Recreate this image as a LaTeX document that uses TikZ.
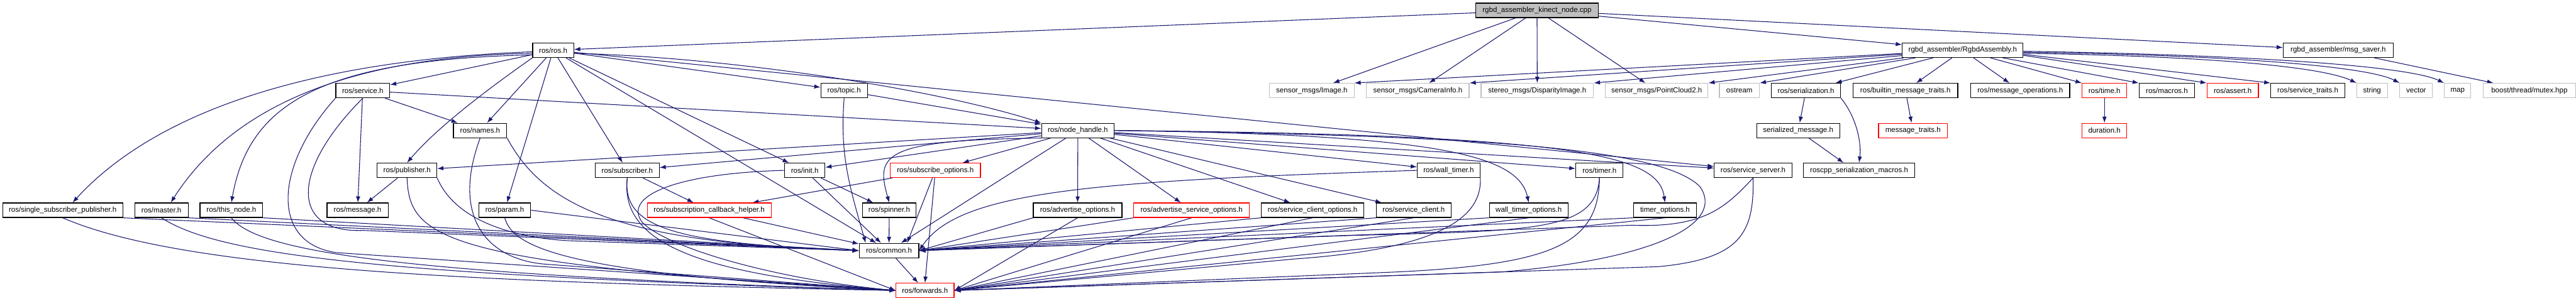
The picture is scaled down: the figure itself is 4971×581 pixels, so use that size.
\documentclass[tikz,border=0pt]{standalone}
\usepackage{fontspec}
\setmainfont{Liberation Sans}
\usetikzlibrary{positioning,arrows.meta,backgrounds}
\definecolor{incblue}{HTML}{191970}
\definecolor{sysgray}{HTML}{BFBFBF}

\begin{document}
\begin{tikzpicture}[
  x=1pt, y=-1pt,
  hdr/.style={draw,line width=1.4pt,fill=white,minimum height=28,inner sep=0pt,font=\fontsize{14}{16}\selectfont},
  syshdr/.style={hdr,draw=sysgray},
  cuthdr/.style={hdr,draw=red},
  srchdr/.style={hdr,fill=sysgray},
  inc/.style={draw=incblue,line width=1.3pt,-{Latex[length=12pt,width=8.5pt]}}
]
\useasboundingbox (0,0) rectangle (4971,581);

% row 0
\node[srchdr,minimum width=236] (kinect) at (2966,20) {rgbd\_assembler\_kinect\_node.cpp};
% row 1
\node[hdr,minimum width=79] (ros) at (1067.5,97) {ros/ros.h};
\node[hdr,minimum width=233] (assembly) at (3787.5,97) {rgbd\_assembler/RgbdAssembly.h};
\node[hdr,minimum width=212] (saver) at (4512,97) {rgbd\_assembler/msg\_saver.h};
% row 2
\node[hdr,minimum width=104] (service) at (700,175) {ros/service.h};
\node[hdr,minimum width=90] (topic) at (1629,175) {ros/topic.h};
\node[syshdr,minimum width=163] (image) at (2531.5,175) {sensor\_msgs/Image.h};
\node[syshdr,minimum width=198] (caminfo) at (2736,175) {sensor\_msgs/CameraInfo.h};
\node[syshdr,minimum width=217] (disparity) at (2966.5,175) {stereo\_msgs/DisparityImage.h};
\node[syshdr,minimum width=198] (cloud) at (3197,175) {sensor\_msgs/PointCloud2.h};
\node[syshdr,minimum width=77] (ostream) at (3356.5,175) {ostream};
\node[hdr,minimum width=134] (serialization) at (3485,175) {ros/serialization.h};
\node[hdr,minimum width=202] (builtin) at (3677,175) {ros/builtin\_message\_traits.h};
\node[hdr,minimum width=191] (msgops) at (3898.5,175) {ros/message\_operations.h};
\node[cuthdr,minimum width=86] (time) at (4061,175) {ros/time.h};
\node[hdr,minimum width=107] (macros) at (4181.5,175) {ros/macros.h};
\node[cuthdr,minimum width=99] (assert) at (4308.5,175) {ros/assert.h};
\node[hdr,minimum width=143] (srvtraits) at (4453.5,175) {ros/service\_traits.h};
\node[syshdr,minimum width=59] (string) at (4577.5,175) {string};
\node[syshdr,minimum width=63] (vector) at (4662.5,175) {vector};
\node[syshdr,minimum width=51] (map) at (4742.5,175) {map};
\node[syshdr,minimum width=178] (mutex) at (4881,175) {boost/thread/mutex.hpp};
% row 3
\node[hdr,minimum width=103] (names) at (926.5,252) {ros/names.h};
\node[hdr,minimum width=140] (nodehandle) at (2080,252) {ros/node\_handle.h};
\node[hdr,minimum width=160] (serialized) at (3470,252) {serialized\_message.h};
\node[cuthdr,minimum width=133] (msgtraits) at (3691.5,252) {message\_traits.h};
\node[cuthdr,minimum width=86] (duration) at (4061,252) {duration.h};
% row 4
\node[hdr,minimum width=115] (publisher) at (785.5,329) {ros/publisher.h};
\node[hdr,minimum width=123] (subscriber) at (1210.5,329) {ros/subscriber.h};
\node[hdr,minimum width=78] (init) at (1553,329) {ros/init.h};
\node[cuthdr,minimum width=174] (subopts) at (1805,329) {ros/subscribe\_options.h};
\node[hdr,minimum width=121] (walltimer) at (2795.5,329) {ros/wall\_timer.h};
\node[hdr,minimum width=91] (timer) at (3086.5,329) {ros/timer.h};
\node[hdr,minimum width=150] (srvserver) at (3383,329) {ros/service\_server.h};
\node[hdr,minimum width=215] (sermacros) at (3587.5,329) {roscpp\_serialization\_macros.h};
% row 5
\node[hdr,minimum width=232] (ssp) at (121,406) {ros/single\_subscriber\_publisher.h};
\node[hdr,minimum width=103] (master) at (311.5,406) {ros/master.h};
\node[hdr,minimum width=121] (thisnode) at (446.5,406) {ros/this\_node.h};
\node[hdr,minimum width=118] (message) at (690,406) {ros/message.h};
\node[hdr,minimum width=100] (param) at (974,406) {ros/param.h};
\node[cuthdr,minimum width=239] (callback) at (1368.5,406) {ros/subscription\_callback\_helper.h};
\node[hdr,minimum width=104] (spinner) at (1716,406) {ros/spinner.h};
\node[hdr,minimum width=171] (advopts) at (2079.5,406) {ros/advertise\_options.h};
\node[cuthdr,minimum width=223] (advsrvopts) at (2299.5,406) {ros/advertise\_service\_options.h};
\node[hdr,minimum width=198] (clientopts) at (2533,406) {ros/service\_client\_options.h};
\node[hdr,minimum width=144] (client) at (2728,406) {ros/service\_client.h};
\node[hdr,minimum width=152] (walltimeropts) at (2950,406) {wall\_timer\_options.h};
\node[hdr,minimum width=122] (timeropts) at (3213,406) {timer\_options.h};
% rows 6 and 7
\node[hdr,minimum width=115] (common) at (1715.5,484) {ros/common.h};
\node[cuthdr,minimum width=112] (forwards) at (1785,561) {ros/forwards.h};

\begin{pgfonlayer}{background}
% the node source and its two own headers
\path (kinect) edge[inc] (ros) edge[inc] (assembly) edge[inc] (saver)
  edge[inc] (image) edge[inc] (caminfo) edge[inc] (disparity) edge[inc] (cloud);
\path (saver) edge[inc] (mutex);
\path (assembly) edge[inc] (image.north east) edge[inc] (caminfo.north east)
  edge[inc] (disparity.north east) edge[inc] (cloud.north east) edge[inc] (ostream.north east)
  edge[inc] (serialization) edge[inc] (builtin) edge[inc] (msgops) edge[inc] (time.north west);
\path ([xshift=-40pt]assembly.south east) edge[inc] (macros.north west);
\path ([yshift=-10pt]assembly.east) edge[inc] (assert.north west);
\path ([yshift=-8pt]assembly.east) edge[inc] (srvtraits.north west);
\draw[inc] ([yshift=-6pt]assembly.east) .. controls (4250,108) and (4480,128) .. (string.north west);
\draw[inc] ([yshift=-4pt]assembly.east) .. controls (4300,106) and (4570,128) .. (vector.north west);
\draw[inc] ([yshift=-2pt]assembly.east) .. controls (4350,106) and (4650,128) .. (map.north west);
\path (serialization) edge[inc] (serialized);
\draw[inc] (serialization.south east) .. controls (3585,230) and (3592,280) .. (sermacros.north);
\path (serialized) edge[inc] ([xshift=-30pt]sermacros.north);
\path (builtin) edge[inc] (msgtraits);
\path (time) edge[inc] (duration);

% ros/ros.h
\path (ros) edge[inc] (service) edge[inc] (topic) edge[inc] (names) edge[inc] (param)
  edge[inc] (subscriber) edge[inc] (init) edge[inc] (srvserver) edge[inc] (common);
\draw[inc] ([yshift=-3pt]ros.west) .. controls (500,120) and (260,260) .. ([xshift=19pt]ssp.north);
\draw[inc] ([yshift=-6pt]ros.west) .. controls (600,110) and (420,250) .. ([xshift=18pt]master.north);
\draw[inc] ([yshift=-9pt]ros.west) .. controls (620,115) and (480,200) .. (thisnode.north);
\draw[inc] (ros.south west) .. controls (930,180) and (840,250) .. (publisher.north);
\draw[inc] ([yshift=-6pt]ros.east) .. controls (1400,110) and (1800,170) .. (nodehandle.north west);

% ros/service.h, ros/topic.h, ros/names.h
\path (service) edge[inc] (names) edge[inc] (nodehandle) edge[inc] (message);
\draw[inc] (service.south) .. controls (560,330) and (560,450) .. (700,445) -- (common.west);
\draw[inc] (service.south west) .. controls (530,320) and (520,470) .. (650,488) -- (forwards.west);
\path (topic) edge[inc] (nodehandle);
\draw[inc] (topic.south) .. controls (1620,300) and (1640,362) .. ([xshift=-45pt]common.north);
\draw[inc] (names.south east) .. controls (1050,400) and (1200,470) .. (common.west);
\draw[inc] (names.south) .. controls (870,420) and (940,500) .. (1050,510) -- (forwards.west);

% ros/node_handle.h
\path (nodehandle) edge[inc] (publisher) edge[inc] (subscriber) edge[inc] (init)
  edge[inc] (subopts) edge[inc] (walltimer) edge[inc] (timer) edge[inc] (srvserver)
  edge[inc] (advopts) edge[inc] (advsrvopts) edge[inc] (clientopts) edge[inc] (client)
  edge[inc] (common);
\draw[inc] (nodehandle.south west) .. controls (1700,270) and (1690,300) .. (spinner.north);
\draw[inc] (nodehandle.east) .. controls (2780,260) and (2930,300) .. (walltimeropts.north);
\draw[inc] (nodehandle.east) .. controls (3050,260) and (3200,300) .. (timeropts.north);
\draw[inc] (nodehandle.east) .. controls (2800,262) and (3200,280) .. (3280,360)
  .. controls (3330,430) and (3200,500) .. (2900,525) -- (forwards.east);

% row 4
\path (publisher) edge[inc] (message);
\draw[inc] (publisher.south east) .. controls (880,430) and (1000,460) .. (1100,465) -- (common.west);
\draw[inc] (publisher.south) .. controls (790,460) and (850,510) .. (forwards.west);
\path (subscriber) edge[inc] (callback);
\draw[inc] (subscriber.south) .. controls (1200,440) and (1300,470) .. (common.west);
\draw[inc] (subscriber.south) .. controls (1195,470) and (1350,530) .. (forwards.west);
\path (init) edge[inc] (spinner) edge[inc] (common);
\draw[inc] (init.west) .. controls (1300,335) and (1200,380) .. (1240,430)
  .. controls (1290,480) and (1500,540) .. (forwards.west);
\path (subopts) edge[inc] (callback) edge[inc] ([xshift=35pt]common.north) edge[inc] (forwards.north);
\draw[inc] (walltimer.west) .. controls (2100,350) and (1850,370) .. (common.east);
\draw[inc] (walltimer.south east) .. controls (2860,420) and (2780,480) .. (2500,500) -- (forwards.east);
\draw[inc] (timer.south) .. controls (3080,450) and (2950,445) .. (2600,455) -- (common.east);
\draw[inc] (timer.south) .. controls (3085,470) and (3000,510) .. (2700,525) -- (forwards.east);
\draw[inc] (srvserver.south) .. controls (3330,400) and (3290,440) .. (3150,435) -- (common.east);
\draw[inc] (srvserver.south) .. controls (3385,450) and (3360,500) .. (3200,515) -- (forwards.east);

% row 5
\path (ssp.south east) edge[inc] (common.west);
\draw[inc] (ssp.south) .. controls (350,520) and (900,545) .. (forwards.west);
\path (master.south east) edge[inc] (common.west);
\draw[inc] (master.south) .. controls (420,490) and (700,530) .. (forwards.west);
\path (thisnode.south east) edge[inc] (common.west);
\draw[inc] (thisnode.south) .. controls (500,490) and (800,530) .. (forwards.west);
\path (param.east) edge[inc] (common.west);
\draw[inc] (param.south) .. controls (990,480) and (1100,530) .. (forwards.west);
\path (callback) edge[inc] (common) (callback.south) edge[inc] (forwards.west);
\path (spinner) edge[inc] (common);
\foreach \n in {advopts,advsrvopts,clientopts,client,walltimeropts,timeropts}
  \path (\n.south west) edge[inc] (common.east) (\n.south) edge[inc] (forwards.east);

\path (common) edge[inc] (forwards);
\end{pgfonlayer}
\end{tikzpicture}
\end{document}
